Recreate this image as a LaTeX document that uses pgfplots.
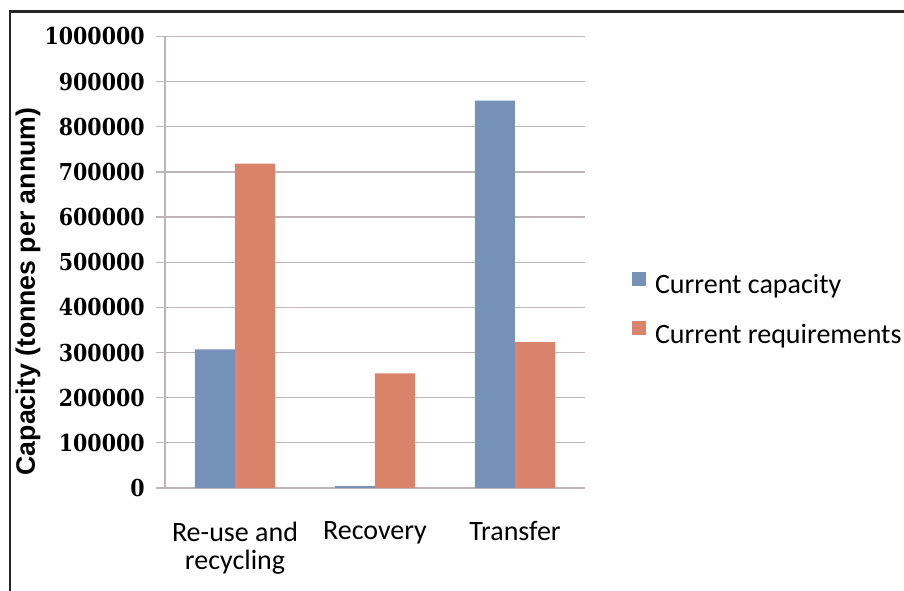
\documentclass[border=0pt]{standalone}
\usepackage{fontspec}
\setmainfont{Carlito}
\newfontfamily\tickfont{DejaVu Serif}[FakeStretch=0.88]
\newfontfamily\labelfont{Liberation Sans}
\usepackage{pgfplots}
\pgfplotsset{compat=1.18}

\definecolor{capblue}{RGB}{118,146,184}
\definecolor{reqorange}{RGB}{217,131,106}
\definecolor{gridgray}{RGB}{190,182,182}
\definecolor{framegray}{RGB}{38,38,38}

\begin{document}
\begin{tikzpicture}
% 1 px of the reference = 0.75pt
\useasboundingbox (0,0) rectangle (678pt,443.25pt);
% outer frame (only left and top edges visible)
\draw[framegray, line width=2.2pt] (7.5pt,-5pt) -- (7.5pt,434.6pt) -- (700pt,434.6pt);

\begin{axis}[
  at={(123.75pt,77.25pt)}, anchor=south west,
  scale only axis,
  width=315pt, height=338.7pt,
  ybar=0pt, bar width=30pt,
  xmin=-0.5, xmax=2.5,
  ymin=0, ymax=1000000,
  ytick distance=100000,
  scaled y ticks=false,
  /pgf/number format/fixed,
  /pgf/number format/1000 sep={},
  /pgf/number format/assume math mode=true,
  axis x line=bottom, axis y line=left,
  axis line style={-, gridgray, line width=1pt},
  ymajorgrids, grid style={gridgray, line width=1pt},
  tick align=outside,
  major tick length=6.75pt,
  xtick={0,1,2},
  xticklabels={Re-use and\\recycling, Recovery, Transfer},
  xtick style={draw=none},
  extra x ticks={-0.5,0.5,1.5,2.5},
  extra x tick labels={},
  extra x tick style={grid=none, tick style={draw=gridgray, line width=1pt}},
  ytick style={gridgray, line width=1pt},
  yticklabel style={font=\tickfont\bfseries\fontsize{17.5}{20}\selectfont, black, xshift=-5pt},
  xticklabel style={font=\fontsize{21}{21}\selectfont, align=center, black, yshift=-15pt},
  legend style={at={(1.112,0.3976)}, anchor=west, draw=none, fill=none,
    inner sep=0pt, outer sep=0pt, nodes={inner sep=0pt},
    row sep=19pt, column sep=6.75pt,
    font=\fontsize{21}{21}\selectfont},
  legend cell align=left,
  legend image code/.code={\fill[#1] (0pt,-0.5pt) rectangle (10.5pt,10pt);},
]
\addplot[fill=capblue, draw=none] coordinates {(0,307000) (1,4000) (2,858000)};
\addlegendentry{Current capacity}
\addplot[fill=reqorange, draw=none] coordinates {(0,718000) (1,254000) (2,323000)};
\addlegendentry{Current requirements}
\end{axis}

\node[rotate=90, anchor=base, font=\labelfont\bfseries\fontsize{20}{20}\selectfont]
  at (26.25pt,224.6pt) {Capacity (tonnes per annum)};
\end{tikzpicture}
\end{document}
